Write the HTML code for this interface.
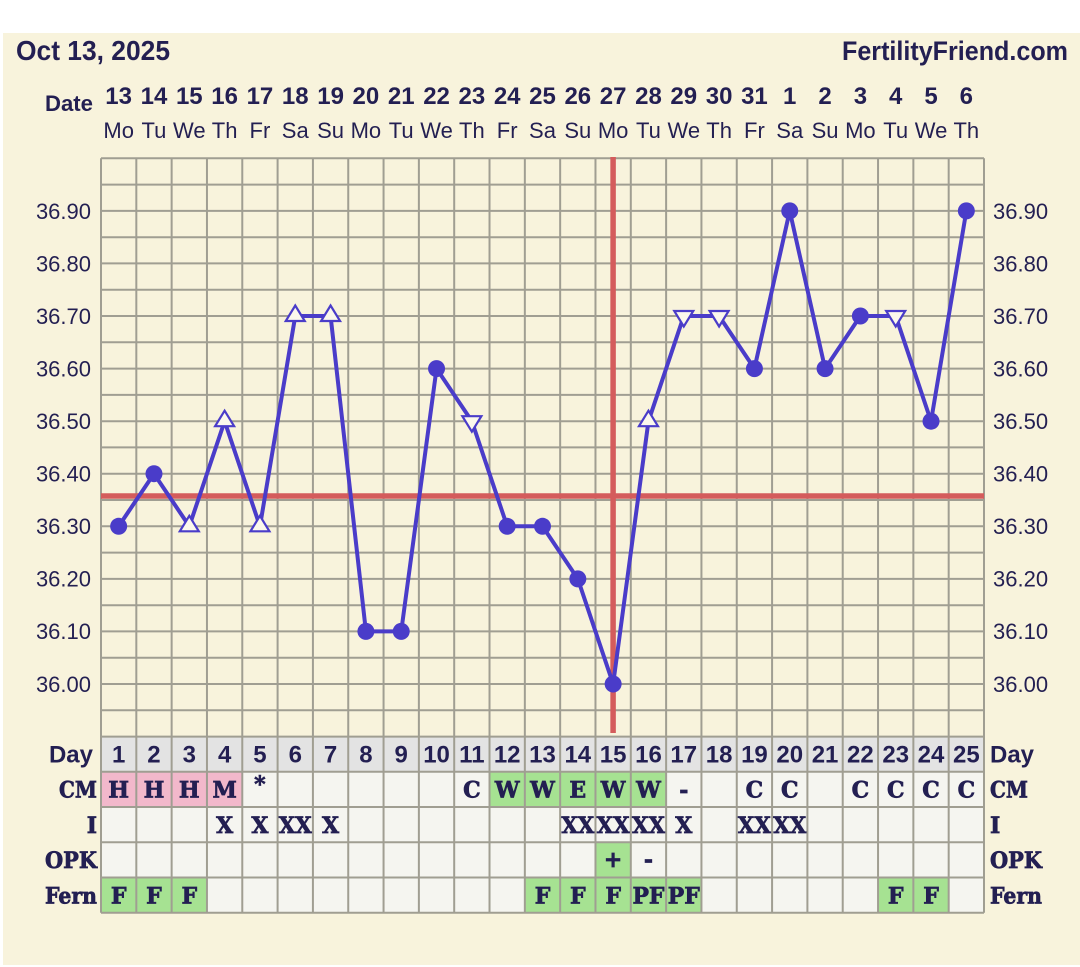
<!DOCTYPE html>
<html><head><meta charset="utf-8"><style>
html,body{margin:0;padding:0;background:#fff;}
svg{display:block;}
.s{font-family:"Liberation Sans",sans-serif;fill:#231f52;}
.b{font-weight:bold;}
.sl{font-family:"DejaVu Serif","Liberation Serif",serif;font-weight:bold;fill:#231f52;stroke:#231f52;stroke-width:0.7;}
</style></head><body>
<svg width="1080" height="967" viewBox="0 0 1080 967" xmlns="http://www.w3.org/2000/svg">
<rect x="3" y="33" width="1077" height="932" fill="#f8f3dc"/>
<!-- header -->
<text class="s b" x="16" y="60" font-size="28" textLength="154" lengthAdjust="spacingAndGlyphs">Oct 13, 2025</text>
<text class="s b" x="1068" y="60" font-size="27" text-anchor="end" textLength="226" lengthAdjust="spacingAndGlyphs">FertilityFriend.com</text>
<text class="s b" x="93" y="111" font-size="22" text-anchor="end" textLength="48" lengthAdjust="spacingAndGlyphs">Date</text>
<g class="s b" font-size="24" text-anchor="middle">
<text x="118.66" y="104">13</text><text x="153.98" y="104">14</text><text x="189.3" y="104">15</text><text x="224.62" y="104">16</text><text x="259.94" y="104">17</text><text x="295.26" y="104">18</text><text x="330.58" y="104">19</text><text x="365.9" y="104">20</text><text x="401.22" y="104">21</text><text x="436.54" y="104">22</text><text x="471.86" y="104">23</text><text x="507.18" y="104">24</text><text x="542.5" y="104">25</text><text x="577.82" y="104">26</text><text x="613.14" y="104">27</text><text x="648.46" y="104">28</text><text x="683.78" y="104">29</text><text x="719.1" y="104">30</text><text x="754.42" y="104">31</text><text x="789.74" y="104">1</text><text x="825.06" y="104">2</text><text x="860.38" y="104">3</text><text x="895.7" y="104">4</text><text x="931.02" y="104">5</text><text x="966.34" y="104">6</text>
</g>
<g class="s" font-size="22" text-anchor="middle">
<text x="118.66" y="138">Mo</text><text x="153.98" y="138">Tu</text><text x="189.3" y="138">We</text><text x="224.62" y="138">Th</text><text x="259.94" y="138">Fr</text><text x="295.26" y="138">Sa</text><text x="330.58" y="138">Su</text><text x="365.9" y="138">Mo</text><text x="401.22" y="138">Tu</text><text x="436.54" y="138">We</text><text x="471.86" y="138">Th</text><text x="507.18" y="138">Fr</text><text x="542.5" y="138">Sa</text><text x="577.82" y="138">Su</text><text x="613.14" y="138">Mo</text><text x="648.46" y="138">Tu</text><text x="683.78" y="138">We</text><text x="719.1" y="138">Th</text><text x="754.42" y="138">Fr</text><text x="789.74" y="138">Sa</text><text x="825.06" y="138">Su</text><text x="860.38" y="138">Mo</text><text x="895.7" y="138">Tu</text><text x="931.02" y="138">We</text><text x="966.34" y="138">Th</text>
</g>
<!-- table backgrounds -->
<rect x="101" y="736.6" width="883" height="35.2" fill="#e3e3e3"/>
<rect x="101" y="771.8" width="883" height="140.9" fill="#f5f5f0"/>
<rect x="101" y="771.8" width="141.28" height="35.2" fill="#f2b8cb"/>
<rect x="489.52" y="771.8" width="176.6" height="35.2" fill="#a6e292"/>
<rect x="595.48" y="842.3" width="35.32" height="35.2" fill="#a6e292"/>
<rect x="101" y="877.5" width="105.96" height="35.2" fill="#a6e292"/>
<rect x="524.84" y="877.5" width="176.6" height="35.2" fill="#a6e292"/>
<rect x="878.04" y="877.5" width="70.64" height="35.2" fill="#a6e292"/>
<!-- grid -->
<path fill="none" stroke="#a09e92" stroke-width="2" d="
M101 158.3V912.7M136.32 158.3V912.7M171.64 158.3V912.7M206.96 158.3V912.7M242.28 158.3V912.7M277.6 158.3V912.7M312.92 158.3V912.7M348.24 158.3V912.7M383.56 158.3V912.7M418.88 158.3V912.7M454.2 158.3V912.7M489.52 158.3V912.7M524.84 158.3V912.7M560.16 158.3V912.7M595.48 158.3V912.7M630.8 158.3V912.7M666.12 158.3V912.7M701.44 158.3V912.7M736.76 158.3V912.7M772.08 158.3V912.7M807.4 158.3V912.7M842.72 158.3V912.7M878.04 158.3V912.7M913.36 158.3V912.7M948.68 158.3V912.7M984 158.3V912.7
M101 158.3H984M101 184.6H984M101 210.9H984M101 237.2H984M101 263.4H984M101 289.7H984M101 316H984M101 342.3H984M101 368.6H984M101 394.9H984M101 421.2H984M101 447.4H984M101 473.7H984M101 500H984M101 526.3H984M101 552.6H984M101 578.9H984M101 605.2H984M101 631.4H984M101 657.7H984M101 684H984M101 710.3H984M101 736.6H984
M101 771.8H984M101 807H984M101 842.3H984M101 877.5H984M101 912.7H984"/>
<!-- red lines -->
<line x1="101" y1="496" x2="984" y2="496" stroke="#d45c5c" stroke-width="5.5"/>
<line x1="613.1" y1="157" x2="613.1" y2="733" stroke="#d45c5c" stroke-width="5.5"/>
<!-- y labels -->
<g class="s" font-size="22">
<g text-anchor="end">
<text x="91" y="219">36.90</text><text x="91" y="271.5">36.80</text><text x="91" y="324">36.70</text><text x="91" y="376.5">36.60</text><text x="91" y="429">36.50</text><text x="91" y="481.5">36.40</text><text x="91" y="534">36.30</text><text x="91" y="586.5">36.20</text><text x="91" y="639">36.10</text><text x="91" y="692">36.00</text>
</g>
<text x="993" y="219">36.90</text><text x="993" y="271.5">36.80</text><text x="993" y="324">36.70</text><text x="993" y="376.5">36.60</text><text x="993" y="429">36.50</text><text x="993" y="481.5">36.40</text><text x="993" y="534">36.30</text><text x="993" y="586.5">36.20</text><text x="993" y="639">36.10</text><text x="993" y="692">36.00</text>
</g>
<!-- series -->
<polyline fill="none" stroke="#4a3cc9" stroke-width="4" stroke-linejoin="round" points="118.66,526.3 153.98,473.7 189.3,526.3 224.62,421.2 259.94,526.3 295.26,316 330.58,316 365.9,631.4 401.22,631.4 436.54,368.6 471.86,421.2 507.18,526.3 542.5,526.3 577.82,578.9 613.14,684 648.46,421.2 683.78,316 719.1,316 754.42,368.6 789.74,210.9 825.06,368.6 860.38,316 895.7,316 931.02,421.2 966.34,210.9"/>
<g fill="#4a3cc9">
<circle cx="118.66" cy="526.3" r="8.5"/><circle cx="153.98" cy="473.7" r="8.5"/><circle cx="365.9" cy="631.4" r="8.5"/><circle cx="401.22" cy="631.4" r="8.5"/><circle cx="436.54" cy="368.6" r="8.5"/><circle cx="507.18" cy="526.3" r="8.5"/><circle cx="542.5" cy="526.3" r="8.5"/><circle cx="577.82" cy="578.9" r="8.5"/><circle cx="613.14" cy="684" r="8.5"/><circle cx="754.42" cy="368.6" r="8.5"/><circle cx="789.74" cy="210.9" r="8.5"/><circle cx="825.06" cy="368.6" r="8.5"/><circle cx="860.38" cy="316" r="8.5"/><circle cx="931.02" cy="421.2" r="8.5"/><circle cx="966.34" cy="210.9" r="8.5"/>
</g>
<g fill="#fbf8ec" stroke="#4a3cc9" stroke-width="2.2" stroke-linejoin="miter">
<polygon points="189.3,515.8 179.8,531.3 198.8,531.3"/>
<polygon points="224.62,410.7 215.12,426.2 234.12,426.2"/>
<polygon points="259.94,515.8 250.44,531.3 269.44,531.3"/>
<polygon points="295.26,305.5 285.76,321 304.76,321"/>
<polygon points="330.58,305.5 321.08,321 340.08,321"/>
<polygon points="648.46,410.7 638.96,426.2 657.96,426.2"/>
<polygon points="462.36,416.2 481.36,416.2 471.86,431.7"/>
<polygon points="674.28,311 693.28,311 683.78,326.5"/>
<polygon points="709.6,311 728.6,311 719.1,326.5"/>
<polygon points="886.2,311 905.2,311 895.7,326.5"/>
</g>
<!-- table labels -->
<text class="s b" x="93" y="762.5" font-size="24" text-anchor="end">Day</text>
<g class="sl" font-size="22" text-anchor="end">
<text x="97" y="797.5" textLength="38" lengthAdjust="spacingAndGlyphs">CM</text>
<text x="97" y="833">I</text>
<text x="97" y="868" textLength="52" lengthAdjust="spacingAndGlyphs">OPK</text>
<text x="97" y="903.5" textLength="52" lengthAdjust="spacingAndGlyphs">Fern</text>
</g>
<text class="s b" x="990" y="762.5" font-size="24">Day</text>
<g class="sl" font-size="22">
<text x="990" y="797.5" textLength="38" lengthAdjust="spacingAndGlyphs">CM</text>
<text x="990" y="833">I</text>
<text x="990" y="868" textLength="52" lengthAdjust="spacingAndGlyphs">OPK</text>
<text x="990" y="903.5" textLength="52" lengthAdjust="spacingAndGlyphs">Fern</text>
</g>
<!-- day numbers -->
<g class="s b" font-size="24" text-anchor="middle">
<text x="118.66" y="762.5">1</text><text x="153.98" y="762.5">2</text><text x="189.3" y="762.5">3</text><text x="224.62" y="762.5">4</text><text x="259.94" y="762.5">5</text><text x="295.26" y="762.5">6</text><text x="330.58" y="762.5">7</text><text x="365.9" y="762.5">8</text><text x="401.22" y="762.5">9</text><text x="436.54" y="762.5">10</text><text x="471.86" y="762.5">11</text><text x="507.18" y="762.5">12</text><text x="542.5" y="762.5">13</text><text x="577.82" y="762.5">14</text><text x="613.14" y="762.5">15</text><text x="648.46" y="762.5">16</text><text x="683.78" y="762.5">17</text><text x="719.1" y="762.5">18</text><text x="754.42" y="762.5">19</text><text x="789.74" y="762.5">20</text><text x="825.06" y="762.5">21</text><text x="860.38" y="762.5">22</text><text x="895.7" y="762.5">23</text><text x="931.02" y="762.5">24</text><text x="966.34" y="762.5">25</text>
</g>
<!-- CM row -->
<g class="sl" font-size="22" text-anchor="middle">
<text x="118.66" y="797.5">H</text><text x="153.98" y="797.5">H</text><text x="189.3" y="797.5">H</text><text x="224.62" y="797.5">M</text><text x="259.94" y="792">*</text><text x="471.86" y="797.5">C</text><text x="507.18" y="797.5">W</text><text x="542.5" y="797.5">W</text><text x="577.82" y="797.5">E</text><text x="613.14" y="797.5">W</text><text x="648.46" y="797.5">W</text><text x="683.78" y="797.5">-</text><text x="754.42" y="797.5">C</text><text x="789.74" y="797.5">C</text><text x="860.38" y="797.5">C</text><text x="895.7" y="797.5">C</text><text x="931.02" y="797.5">C</text><text x="966.34" y="797.5">C</text>
</g>
<!-- I row -->
<g class="sl" font-size="22" text-anchor="middle">
<text x="224.62" y="833">X</text><text x="259.94" y="833">X</text><text x="295.26" y="833" textLength="33" lengthAdjust="spacingAndGlyphs">XX</text><text x="330.58" y="833">X</text><text x="577.82" y="833" textLength="33" lengthAdjust="spacingAndGlyphs">XX</text><text x="613.14" y="833" textLength="33" lengthAdjust="spacingAndGlyphs">XX</text><text x="648.46" y="833" textLength="33" lengthAdjust="spacingAndGlyphs">XX</text><text x="683.78" y="833">X</text><text x="754.42" y="833" textLength="33" lengthAdjust="spacingAndGlyphs">XX</text><text x="789.74" y="833" textLength="33" lengthAdjust="spacingAndGlyphs">XX</text>
</g>
<!-- OPK row -->
<g class="sl" font-size="22" text-anchor="middle">
<text x="613.14" y="867">+</text><text x="648.46" y="867">-</text>
</g>
<!-- Fern row -->
<g class="sl" font-size="22" text-anchor="middle">
<text x="118.66" y="903.5">F</text><text x="153.98" y="903.5">F</text><text x="189.3" y="903.5">F</text><text x="542.5" y="903.5">F</text><text x="577.82" y="903.5">F</text><text x="613.14" y="903.5">F</text><text x="648.46" y="903.5" textLength="32" lengthAdjust="spacingAndGlyphs">PF</text><text x="683.78" y="903.5" textLength="32" lengthAdjust="spacingAndGlyphs">PF</text><text x="895.7" y="903.5">F</text><text x="931.02" y="903.5">F</text>
</g>
</svg>
</body></html>
